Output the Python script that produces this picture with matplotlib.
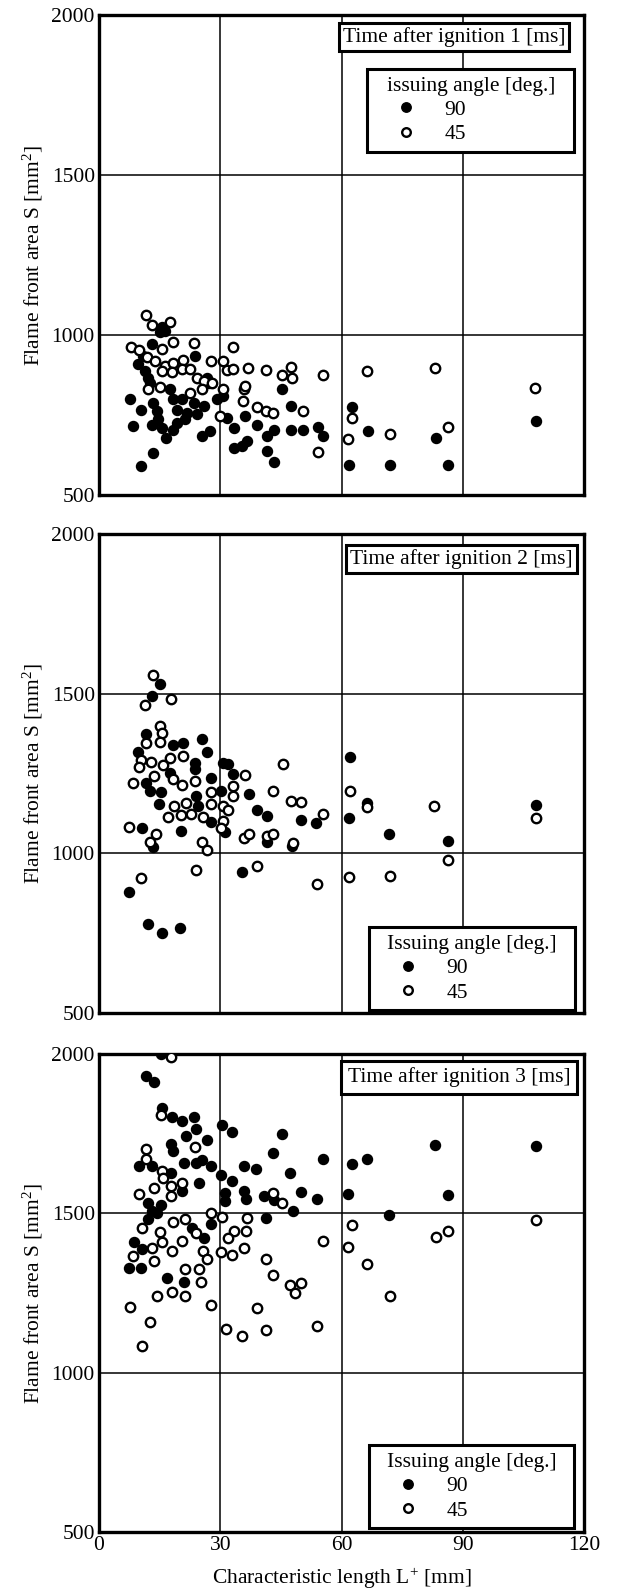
import matplotlib
matplotlib.use("Agg")
import matplotlib.pyplot as plt
from matplotlib.lines import Line2D

plt.rcParams['font.family'] = ['Liberation Serif', 'DejaVu Serif']
plt.rcParams['mathtext.fontset'] = 'custom'
plt.rcParams['mathtext.rm'] = 'Liberation Serif'
plt.rcParams['mathtext.it'] = 'Liberation Serif:italic'

# ---------------- data ----------------
# Panel 1: time after ignition 1 ms
p1_L90 = [15.5, 15.1, 16.3, 13.0, 10.9, 9.7, 11.4, 12.2, 12.6, 23.8, 26.7, 27.1, 7.6, 10.5, 8.5,
          13.4, 14.3, 13.0, 14.7, 15.5, 16.7, 13.4, 10.5, 17.6, 18.4, 19.2, 20.5, 21.7, 23.4, 24.2,
          25.9, 19.2, 21.2, 18.4, 25.4, 27.5, 29.2, 30.8, 31.7, 33.3, 33.3, 35.4, 36.6, 36.2, 39.1,
          41.6, 43.3, 41.6, 43.3, 45.3, 47.4, 47.4, 50.4, 54.1, 55.5, 62.5, 66.6, 83.3, 108.1,
          61.8, 71.9, 86.3]
p1_S90 = [1025, 1008, 1014, 972, 935, 909, 888, 867, 851, 935, 867, 851, 799, 767, 717,
          788, 762, 720, 736, 710, 678, 631, 592, 830, 799, 767, 799, 757, 788, 752,
          778, 725, 736, 704, 683, 699, 799, 809, 741, 710, 647, 652, 668, 746, 720,
          684, 704, 636, 602, 832, 778, 704, 702, 713, 684, 774, 700, 679, 732,
          595, 593, 593]
p1_L45 = [11.6, 17.6, 13.0, 8.0, 9.9, 23.5, 18.2, 15.5, 33.1, 27.7, 30.7, 31.7, 33.2, 36.8, 41.4,
          45.3, 47.4, 47.8, 11.8, 13.8, 16.3, 18.4, 20.9, 20.5, 18.0, 15.5, 22.5, 24.2, 25.9, 28.0,
          15.1, 12.2, 22.5, 25.4, 30.8, 35.8, 36.2, 35.6, 39.1, 41.2, 43.1, 30.0,
          50.5, 54.2, 55.5, 61.6, 62.5, 66.4, 71.9, 83.2, 86.3, 107.8]
p1_S45 = [1063, 1042, 1031, 961, 954, 974, 977, 956, 961, 919, 919, 891, 895, 898, 890,
          874, 900, 867, 930, 919, 903, 914, 921, 893, 883, 888, 893, 867, 856, 851,
          839, 830, 820, 830, 830, 832, 841, 794, 776, 762, 757, 748,
          763, 635, 876, 674, 742, 886, 692, 898, 711, 835]

# Panel 2: time after ignition 2 ms
p2_L90 = [15.2, 13.1, 11.6, 9.7, 18.3, 20.8, 25.5, 26.8, 23.7, 30.7, 32.0, 17.5, 23.7, 27.7, 33.2,
          11.6, 12.5, 15.4, 14.8, 24.0, 30.3, 37.0, 24.5, 39.1, 41.6, 27.7, 31.2, 20.4, 10.6, 13.3,
          41.6, 47.8, 35.3, 7.5, 12.0, 15.5, 20.0,
          50.1, 53.7, 61.8, 62.2, 66.4, 71.8, 86.3, 108.1]
p2_S90 = [1529, 1493, 1373, 1316, 1340, 1347, 1357, 1316, 1284, 1284, 1279, 1253, 1264, 1237, 1250,
          1219, 1196, 1191, 1154, 1180, 1196, 1187, 1149, 1135, 1118, 1097, 1066, 1071, 1079, 1021,
          1037, 1024, 941, 878, 780, 752, 765,
          1105, 1096, 1110, 1301, 1158, 1061, 1039, 1150]
p2_L45 = [13.3, 17.7, 11.5, 15.2, 15.5, 11.6, 15.0, 10.4, 12.9, 10.0, 15.8, 17.5, 20.8, 8.3, 13.7,
          18.3, 20.6, 23.7, 27.7, 33.2, 33.2, 36.1, 45.5, 43.0, 47.5, 18.5, 21.6, 17.0, 20.4, 22.7,
          25.8, 27.8, 30.7, 32.0, 30.7, 30.2, 7.5, 14.1, 12.7, 25.5, 26.8, 35.9, 37.0, 41.6, 43.0,
          47.9, 10.4, 23.9, 39.2,
          50.1, 54.0, 55.4, 61.8, 62.2, 66.4, 71.9, 83.0, 86.3, 108.1]
p2_S45 = [1557, 1482, 1464, 1399, 1378, 1347, 1349, 1292, 1287, 1271, 1277, 1300, 1304, 1219, 1243,
          1232, 1215, 1225, 1191, 1211, 1180, 1246, 1279, 1196, 1165, 1149, 1157, 1113, 1121, 1123,
          1113, 1154, 1149, 1135, 1102, 1079, 1084, 1062, 1037, 1037, 1010, 1048, 1060, 1055, 1060,
          1032, 923, 948, 961,
          1160, 904, 1123, 925, 1194, 1145, 930, 1149, 979, 1110]

# Panel 3: time after ignition 3 ms
p3_L90 = [15.3, 11.6, 13.6, 15.5, 18.0, 20.6, 23.5, 23.9, 21.5, 26.8, 30.5, 33.0, 45.2, 17.7, 18.3,
          43.1, 9.9, 13.2, 17.7, 21.0, 23.9, 25.6, 27.6, 30.1, 33.0, 35.9, 38.9, 24.8, 20.6, 35.9,
          36.3, 31.2, 31.2, 40.8, 43.3, 47.2, 47.9, 41.3, 12.0, 13.2, 15.3, 12.0, 14.4, 27.6, 23.1,
          26.0, 8.7, 10.7, 7.4, 10.3, 16.9, 21.0,
          50.1, 54.0, 55.5, 61.7, 62.5, 66.4, 71.8, 83.1, 86.4, 108.2]
p3_S90 = [2000, 1932, 1911, 1829, 1801, 1790, 1801, 1764, 1743, 1730, 1778, 1754, 1749, 1717, 1696,
          1689, 1647, 1647, 1628, 1657, 1659, 1668, 1649, 1620, 1602, 1649, 1638, 1594, 1570, 1570,
          1544, 1563, 1539, 1555, 1542, 1628, 1507, 1486, 1532, 1507, 1525, 1481, 1502, 1466, 1455,
          1424, 1410, 1389, 1329, 1329, 1298, 1284,
          1566, 1545, 1671, 1561, 1655, 1671, 1496, 1716, 1556, 1710]
p3_L45 = [17.7, 15.3, 11.7, 11.7, 23.8, 15.7, 15.8, 13.6, 9.9, 17.9, 20.6, 17.7, 10.7, 15.0, 15.5,
          18.3, 21.3, 23.9, 20.6, 18.0, 13.2, 8.5, 13.6, 25.7, 26.8, 27.6, 30.5, 36.7, 36.3, 33.4,
          31.8, 30.1, 33.0, 35.9, 21.3, 24.8, 25.2, 18.0, 14.3, 21.3, 7.7, 12.6, 27.6, 31.4, 35.5,
          41.4, 39.2, 41.4, 43.1, 47.2, 48.5, 43.1, 45.4, 10.7,
          50.1, 54.0, 55.5, 61.7, 62.7, 66.4, 72.0, 83.4, 86.4, 108.2]
p3_S45 = [1990, 1808, 1701, 1670, 1707, 1633, 1612, 1578, 1560, 1586, 1594, 1555, 1455, 1441, 1410,
          1473, 1481, 1437, 1413, 1382, 1392, 1366, 1350, 1382, 1358, 1500, 1490, 1486, 1445, 1445,
          1424, 1379, 1368, 1392, 1324, 1326, 1284, 1253, 1242, 1240, 1207, 1158, 1211, 1137, 1114,
          1133, 1204, 1358, 1305, 1274, 1251, 1563, 1532, 1083,
          1282, 1146, 1414, 1393, 1463, 1340, 1240, 1427, 1445, 1479]

time_labels = ["Time after ignition 1 [ms]", "Time after ignition 2 [ms]", "Time after ignition 3 [ms]"]
legend_titles = ["issuing angle [deg.]", "Issuing angle [deg.]", "Issuing angle [deg.]"]
series_labels = ["90", "45"]
x_ticks = [0, 30, 60, 90, 120]
y_ticks = [500, 1000, 1500, 2000]
y_label = "Flame front area S [mm$^{2}$]"
x_label = "Characteristic length L$^{+}$ [mm]"

panels = [(p1_L90, p1_S90, p1_L45, p1_S45),
          (p2_L90, p2_S90, p2_L45, p2_S45),
          (p3_L90, p3_S90, p3_L45, p3_S45)]

# ---------------- figure ----------------
W, H = 619, 1591
fig = plt.figure(figsize=(W / 100, H / 100), dpi=100)

ax_rects = [(99, 15, 584, 495), (99, 534, 584, 1013), (99, 1054, 584, 1532)]
FS = 15.5

# legend boxes (x0, y0, width, height) in axes fraction
legend_boxes = [(0.553, 0.715, 0.427, 0.19), (0.557, 0.006, 0.425, 0.192), (0.557, 0.008, 0.423, 0.192)]
box_pos = [(0.962, 0.975), (0.977, 0.968), (0.972, 0.972)]
box_pad = [0.18, 0.18, 0.3]

for i, (rect, data) in enumerate(zip(ax_rects, panels)):
    x0, y0, x1, y1 = rect
    ax = fig.add_axes([x0 / W, 1 - y1 / H, (x1 - x0) / W, (y1 - y0) / H])
    L90, S90, L45, S45 = data
    ax.scatter(L90, S90, s=52, c='black', edgecolors='black', linewidths=1.0, zorder=3)
    ax.scatter(L45, S45, s=46, facecolors='white', edgecolors='black', linewidths=1.7, zorder=4)
    ax.set_xlim(0, 120)
    ax.set_ylim(500, 2000)
    ax.set_xticks(x_ticks)
    ax.set_yticks(y_ticks)
    ax.grid(True, color='black', linewidth=1.1)
    ax.set_axisbelow(True)
    for sp in ax.spines.values():
        sp.set_linewidth(2.4)
    ax.tick_params(length=0, labelsize=FS, pad=3)
    if i < 2:
        ax.tick_params(labelbottom=False)
    else:
        ax.set_xlabel(x_label, fontsize=FS, labelpad=8)
    ax.set_ylabel(y_label, fontsize=FS, labelpad=5)

    bx, by = box_pos[i]
    ax.text(bx, by, time_labels[i], transform=ax.transAxes, ha='right', va='top',
            fontsize=FS, zorder=6,
            bbox=dict(boxstyle='square,pad=%.2f' % box_pad[i], fc='white', ec='black', lw=2.2))

    handles = [Line2D([], [], linestyle='none', marker='o', markersize=6.8,
                      markerfacecolor='black', markeredgecolor='black'),
               Line2D([], [], linestyle='none', marker='o', markersize=6.2,
                      markerfacecolor='white', markeredgecolor='black', markeredgewidth=1.7)]
    leg = ax.legend(handles, series_labels, title=legend_titles[i], loc='lower left',
                    bbox_to_anchor=legend_boxes[i], mode='expand', fontsize=FS, title_fontsize=FS,
                    frameon=True, fancybox=False, framealpha=1, edgecolor='black',
                    handlelength=2.9, handletextpad=0.35, labelspacing=0.2,
                    borderpad=0.35, borderaxespad=0)
    leg.get_frame().set_linewidth(2.2)
    leg.set_zorder(7)

fig.savefig("out.png", dpi=100)
